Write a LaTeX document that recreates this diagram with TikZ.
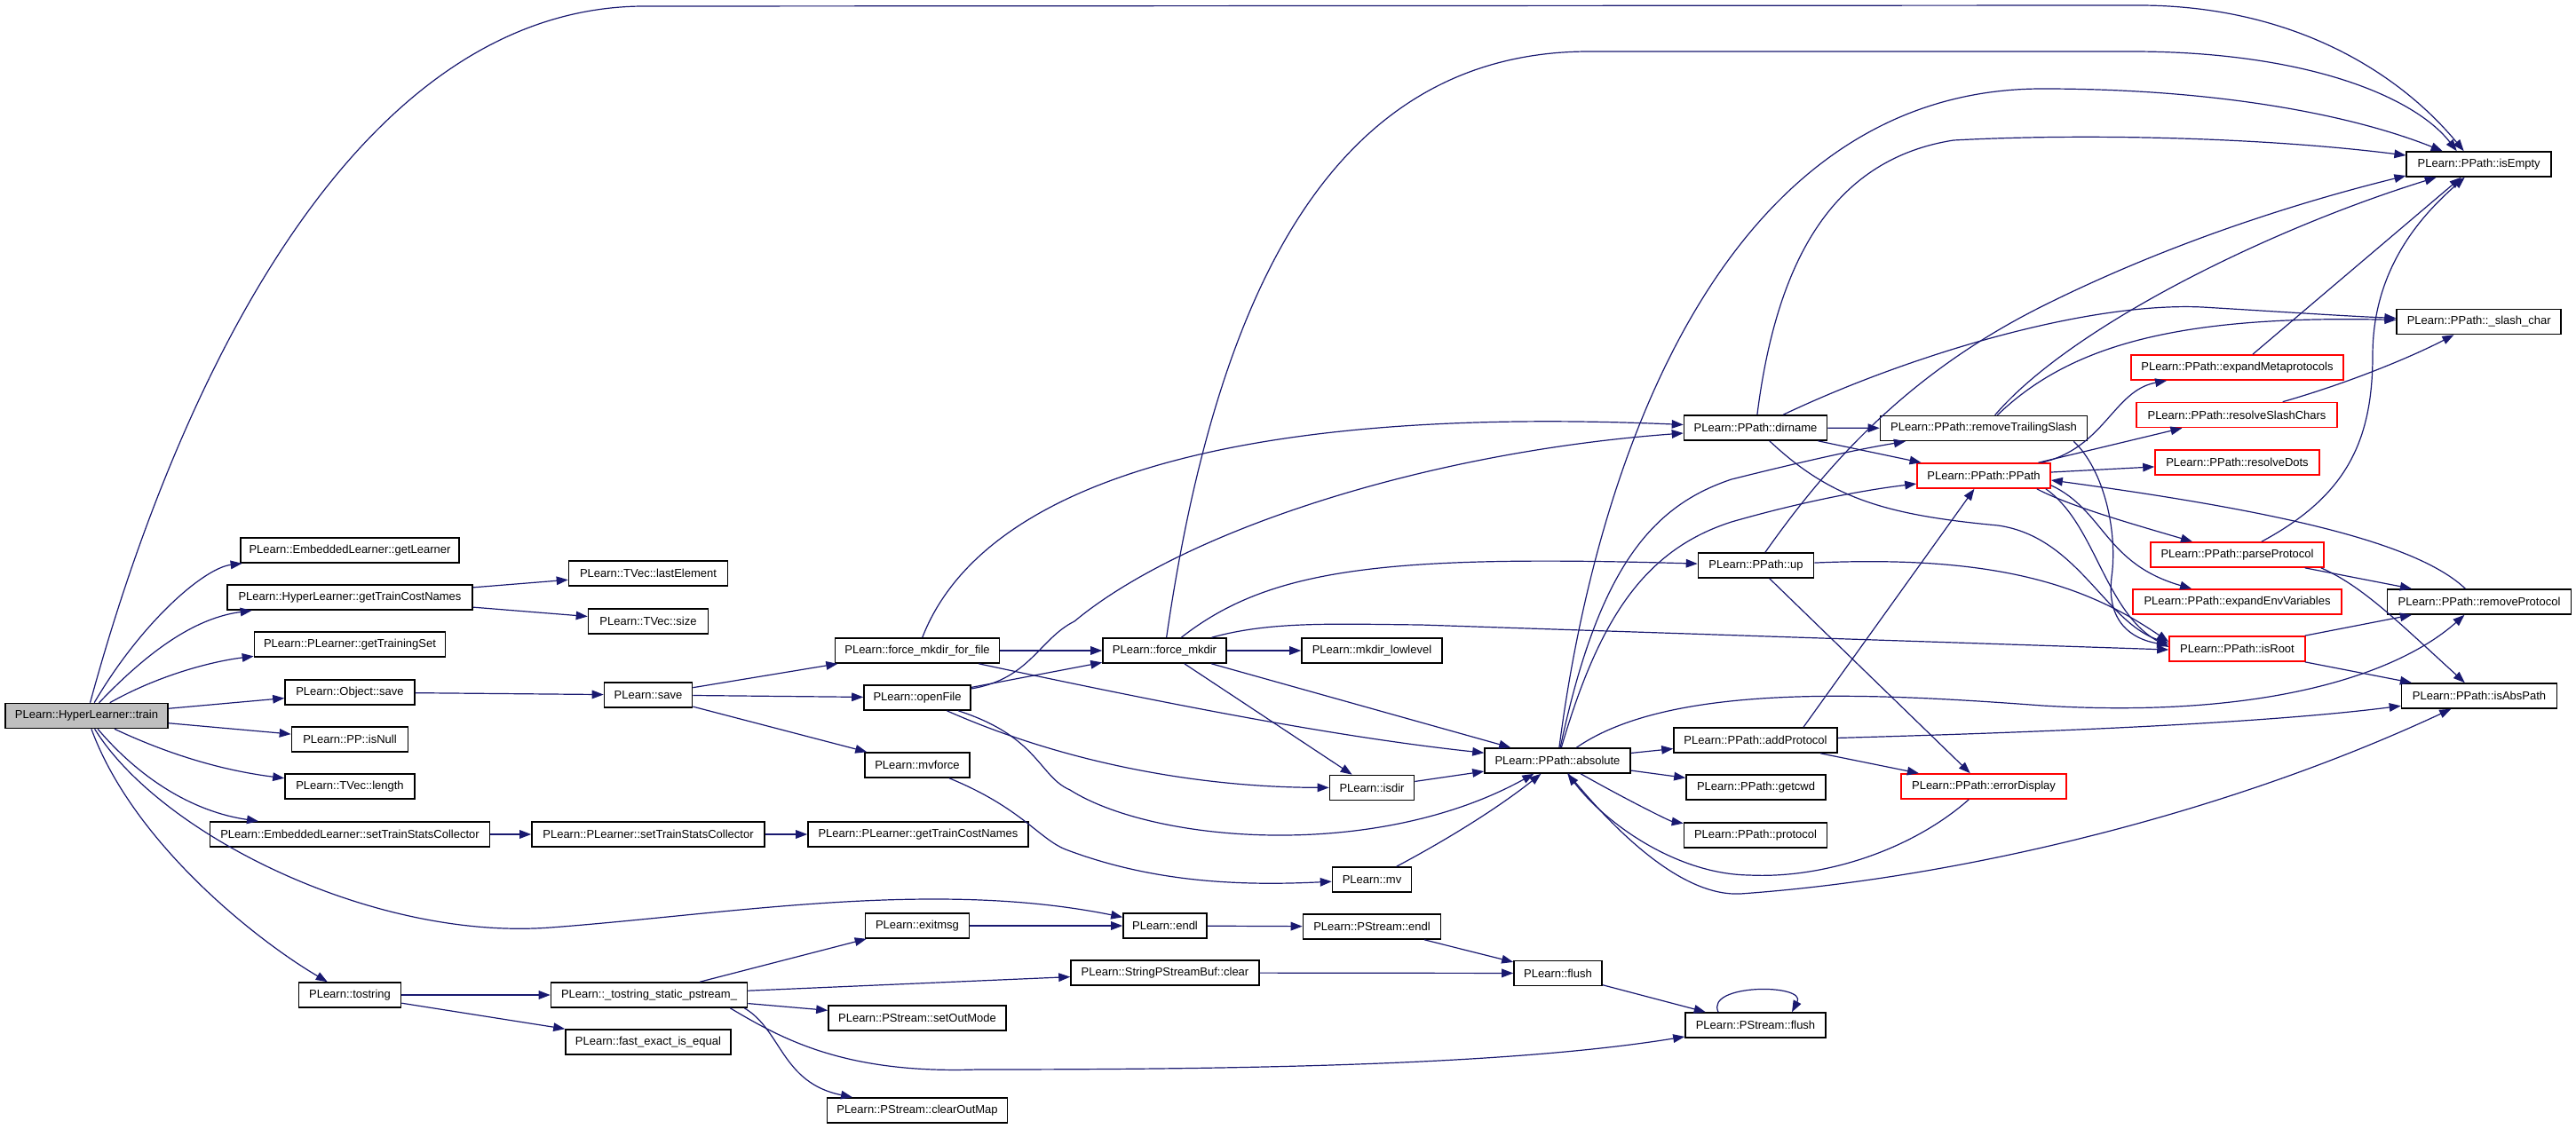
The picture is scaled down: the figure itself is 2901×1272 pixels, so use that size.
\documentclass[tikz,border=0pt]{standalone}
\usepackage{fontspec}
\setmainfont{Liberation Sans}
\usepackage{tikz}
\usetikzlibrary{arrows.meta}
\definecolor{edgeblue}{RGB}{25,25,112}
\definecolor{rootgray}{RGB}{191,191,191}
\tikzset{
    fn/.style={draw=black, line width=0.8pt, fill=white, inner xsep=1pt, inner ysep=0pt,
        minimum height=14pt, font=\fontsize{6.5}{7}\selectfont},
    fnred/.style={fn, draw=red},
    call/.style={draw=edgeblue, line width=0.6pt, -{Triangle[length=6.5pt,width=4.8pt]}}
}

\begin{document}
\begin{tikzpicture}[x=0.5pt, y=-0.5pt]
            \useasboundingbox (0,0) rectangle (2901,1272);

            \node [fn, fill=rootgray, minimum width=91.5pt] (train) at (97.5,806.5) {PLearn::HyperLearner::train};
            \node [fn, minimum width=123pt] (getLearner) at (394,620) {PLearn::EmbeddedLearner::getLearner};
            \node [fn, minimum width=138pt] (hlCost) at (394,673) {PLearn::HyperLearner::getTrainCostNames};
            \node [fn, minimum width=107.5pt] (trainSet) at (394,726) {PLearn::PLearner::getTrainingSet};
            \node [fn, minimum width=73pt] (objSave) at (394,780) {PLearn::Object::save};
            \node [fn, minimum width=65.5pt] (isNull) at (394,833) {PLearn::PP::isNull};
            \node [fn, minimum width=73pt] (tvLen) at (394,886) {PLearn::TVec::length};
            \node [fn, minimum width=157.5pt] (eSetStats) at (394,940) {PLearn::EmbeddedLearner::setTrainStatsCollector};
            \node [fn, minimum width=57.5pt] (tostr) at (394,1121) {PLearn::tostring};

            \node [fn, minimum width=89.5pt] (lastEl) at (730,646) {PLearn::TVec::lastElement};
            \node [fn, minimum width=67.5pt] (tvSize) at (730,700) {PLearn::TVec::size};
            \node [fn, minimum width=49.5pt] (save) at (730,783) {PLearn::save};
            \node [fn, minimum width=131pt] (pSetStats) at (730,940) {PLearn::PLearner::setTrainStatsCollector};
            \node [fn, minimum width=110.5pt] (tsp) at (731,1121) {PLearn::\_tostring\_static\_pstream\_};
            \node [fn, minimum width=93pt] (fastEq) at (730,1174) {PLearn::fast\_exact\_is\_equal};

            \node [fn, minimum width=92.5pt] (fmdf) at (1033,733) {PLearn::force\_mkdir\_for\_file};
            \node [fn, minimum width=60pt] (openFile) at (1033,786) {PLearn::openFile};
            \node [fn, minimum width=59pt] (mvforce) at (1033,862) {PLearn::mvforce};
            \node [fn, minimum width=124pt] (pCost) at (1034,940) {PLearn::PLearner::getTrainCostNames};
            \node [fn, minimum width=58.5pt] (exitmsg) at (1033,1043) {PLearn::exitmsg};
            \node [fn, minimum width=100pt] (setOut) at (1033,1147) {PLearn::PStream::setOutMode};
            \node [fn, minimum width=101.5pt] (clearOut) at (1033,1251) {PLearn::PStream::clearOutMap};

            \node [fn, minimum width=69.5pt] (fmd) at (1311.5,733) {PLearn::force\_mkdir};
            \node [fn, minimum width=47pt] (endl) at (1312,1043) {PLearn::endl};
            \node [fn, minimum width=106pt] (sbClear) at (1312,1096) {PLearn::StringPStreamBuf::clear};

            \node [fn, minimum width=79pt] (mkdirLL) at (1545,733) {PLearn::mkdir\_lowlevel};
            \node [fn, minimum width=47.5pt] (isdir) at (1545,887.5) {PLearn::isdir};
            \node [fn, minimum width=44.5pt] (mv) at (1545,991) {PLearn::mv};
            \node [fn, minimum width=77.5pt] (psEndl) at (1545,1044) {PLearn::PStream::endl};

            \node [fn, minimum width=82pt] (absolute) at (1754,857) {PLearn::PPath::absolute};
            \node [fn, minimum width=49.5pt] (flush) at (1754.5,1096.5) {PLearn::flush};

            \node [fn, minimum width=80.5pt] (dirname) at (1977,482) {PLearn::PPath::dirname};
            \node [fn, minimum width=65pt] (up) at (1977.5,637) {PLearn::PPath::up};
            \node [fn, minimum width=92pt] (addProt) at (1977,834) {PLearn::PPath::addProtocol};
            \node [fn, minimum width=78.5pt] (getcwd) at (1977.5,887) {PLearn::PPath::getcwd};
            \node [fn, minimum width=80.5pt] (protocol) at (1977,941) {PLearn::PPath::protocol};
            \node [fn, minimum width=79pt] (psFlush) at (1977,1155) {PLearn::PStream::flush};

            \node [fn, minimum width=116.5pt] (rts) at (2234,482.5) {PLearn::PPath::removeTrailingSlash};
            \node [fnred, minimum width=75pt] (ppath) at (2234,536) {PLearn::PPath::PPath};
            \node [fnred, minimum width=93pt] (errDisp) at (2234,886) {PLearn::PPath::errorDisplay};

            \node [fnred, minimum width=119.5pt] (expMeta) at (2519.5,414) {PLearn::PPath::expandMetaprotocols};
            \node [fnred, minimum width=113pt] (resSlash) at (2519,467.5) {PLearn::PPath::resolveSlashChars};
            \node [fnred, minimum width=92.5pt] (resDots) at (2519.5,521) {PLearn::PPath::resolveDots};
            \node [fnred, minimum width=97.5pt] (parseProt) at (2519.5,625) {PLearn::PPath::parseProtocol};
            \node [fnred, minimum width=117.5pt] (expEnv) at (2519.5,678) {PLearn::PPath::expandEnvVariables};
            \node [fnred, minimum width=76.5pt] (isRoot) at (2519.5,731) {PLearn::PPath::isRoot};

            \node [fn, minimum width=81.5pt] (isEmpty) at (2791.7,185) {PLearn::PPath::isEmpty};
            \node [fn, minimum width=92.5pt] (slash) at (2791.7,362.5) {PLearn::PPath::\_slash\_char};
            \node [fn, minimum width=103.5pt] (rmProt) at (2792,678) {PLearn::PPath::removeProtocol};
            \node [fn, minimum width=87.5pt] (isAbs) at (2792,784) {PLearn::PPath::isAbsPath};

            \draw [call] (train) .. controls (200,430) and (400,10) .. (723,7) -- (2408,6) .. controls (2580,6) and (2700,80) .. ([xshift=-8.5pt]isEmpty.north);
            \draw [call] (train) .. controls (160,700) and (230,640) .. (getLearner);
            \draw [call] (train) .. controls (180,720) and (230,695) .. (hlCost);
            \draw [call] (train) .. controls (180,760) and (240,745) .. (trainSet);
            \draw [call] (train) -- (objSave);
            \draw [call] (train) -- (isNull);
            \draw [call] (train) .. controls (190,850) and (250,868) .. (tvLen);
            \draw [call] (train) .. controls (160,880) and (220,915) .. (eSetStats);
            \draw [call] (train) .. controls (180,940) and (420,1060) .. (620,1045) .. controls (820,1030) and (1050,990) .. (endl);
            \draw [call] (train) .. controls (150,950) and (290,1060) .. (tostr);

            \draw [call] (hlCost) -- (lastEl);
            \draw [call] (hlCost) -- (tvSize);
            \draw [call] (objSave) -- (save);
            \draw [call] (eSetStats) -- (pSetStats);
            \draw [call] (pSetStats) -- (pCost);

            \draw [call] (save) -- (fmdf);
            \draw [call] (save) -- (openFile);
            \draw [call] (save) -- (mvforce);

            \draw [call] (fmdf) -- (fmd);
            \draw [call] (fmdf) .. controls (1100,560) and (1350,455) .. (dirname);
            \draw [call] (fmdf) .. controls (1300,790) and (1500,830) .. (absolute);

            \draw [call] (openFile) -- (fmd);
            \draw [call] (openFile) .. controls (1160,765) and (1170,720) .. (1210,700) .. controls (1330,600) and (1600,510) .. (dirname);
            \draw [call] (openFile) .. controls (1200,860) and (1350,887) .. (isdir);
            \draw [call] (openFile) .. controls (1170,830) and (1170,875) .. (1205,890) .. controls (1300,950) and (1550,970) .. (absolute);

            \draw [call] (mvforce) .. controls (1150,910) and (1170,945) .. (1200,957) .. controls (1300,995) and (1400,998) .. (mv);
            \draw [call] (mv) .. controls (1650,935) and (1700,900) .. (absolute);
            \draw [call] (isdir) -- (absolute);

            \draw [call] (fmd) -- (mkdirLL);
            \draw [call] (fmd) -- (isdir);
            \draw [call] (fmd) -- (absolute);
            \draw [call] (fmd) .. controls (1370,330) and (1500,58) .. (1790,58) -- (2400,58) .. controls (2600,58) and (2720,110) .. ([xshift=-12.5pt]isEmpty.north);
            \draw [call] (fmd) .. controls (1430,640) and (1560,625) .. (up);
            \draw [call] (fmd) .. controls (1430,700) and (1500,703) .. (1600,704) -- ([yshift=-0.5pt]isRoot.west);

            \draw [call] (absolute) -- (addProt);
            \draw [call] (absolute) -- (getcwd);
            \draw [call] (absolute) .. controls (1830,900) and (1880,925) .. (protocol);
            \draw [call] (absolute) .. controls (1830,950) and (1900,1010) .. (1960,1007) .. controls (2200,990) and (2500,920) .. (isAbs);
            \draw [call] (absolute) .. controls (1880,770) and (2100,780) .. (2300,795) .. controls (2550,810) and (2700,760) .. (rmProt);
            \draw [call] (absolute) .. controls (1800,500) and (1950,100) .. (2300,100) .. controls (2500,100) and (2650,130) .. ([xshift=-20.5pt]isEmpty.north);
            \draw [call] (absolute) .. controls (1800,640) and (1860,570) .. (1950,540) .. controls (2050,515) and (2100,505) .. (rts);
            \draw [call] (absolute) .. controls (1800,700) and (1850,620) .. (1950,588) .. controls (2030,565) and (2100,552) .. (ppath);

            \draw [call] (up) .. controls (2060,520) and (2150,420) .. (2300,345) .. controls (2450,270) and (2600,225) .. ([yshift=-6.5pt]isEmpty.west);
            \draw [call] (up) -- (errDisp);
            \draw [call] (up) .. controls (2250,625) and (2350,660) .. ([yshift=4pt]isRoot.west);

            \draw [call] (addProt) .. controls (2300,825) and (2550,815) .. (isAbs);
            \draw [call] (addProt) -- (errDisp);
            \draw [call] ([xshift=27pt]addProt.north) -- (ppath);
            \draw [call] (errDisp) .. controls (2150,960) and (2050,990) .. (1970,986) .. controls (1890,985) and (1810,930) .. (absolute);

            \draw [call] (dirname) -- (rts);
            \draw [call] (dirname) -- (ppath);
            \draw [call] (dirname) .. controls (2150,400) and (2350,340) .. (2480,346) .. controls (2580,352) and (2640,356) .. (slash);
            \draw [call] (dirname) .. controls (2000,300) and (2060,180) .. (2200,158) .. controls (2350,150) and (2550,155) .. ([yshift=5pt]isEmpty.west);
            \draw [call] (dirname) .. controls (2060,560) and (2120,580) .. (2250,592) .. controls (2340,605) and (2370,700) .. ([yshift=3pt]isRoot.west);

            \draw [call] (rts) .. controls (2330,370) and (2550,260) .. ([xshift=-24pt]isEmpty.south);
            \draw [call] (rts) .. controls (2330,390) and (2450,355) .. (slash);
            \draw [call] ([xshift=-8pt]rts.south east) .. controls (2370,530) and (2385,600) .. (2378,650) .. controls (2372,700) and (2400,720) .. ([yshift=2pt]isRoot.west);

            \draw [call] (ppath) .. controls (2370,505) and (2380,440) .. (expMeta);
            \draw [call] (ppath) -- (resSlash);
            \draw [call] (ppath) -- (resDots);
            \draw [call] ([xshift=-8pt]ppath.south east) .. controls (2330,570) and (2400,590) .. (parseProt);
            \draw [call] ([yshift=2pt]ppath.south east) .. controls (2370,575) and (2370,635) .. (expEnv);
            \draw [call] ([xshift=-3pt]ppath.south east) .. controls (2360,590) and (2370,690) .. ([yshift=1pt]isRoot.west);

            \draw [call] (expMeta) -- ([xshift=-10pt]isEmpty.south);
            \draw [call] (resSlash) .. controls (2650,430) and (2720,400) .. (slash);
            \draw [call] (parseProt) .. controls (2640,560) and (2672,500) .. (2672,400) .. controls (2672,300) and (2730,240) .. ([xshift=-8pt]isEmpty.south);
            \draw [call] (parseProt) -- (rmProt);
            \draw [call] ([xshift=-2pt]parseProt.south east) .. controls (2660,660) and (2700,700) .. (isAbs);
            \draw [call] (isRoot) -- (rmProt);
            \draw [call] (isRoot) -- (isAbs);
            \draw [call] (rmProt) .. controls (2720,610) and (2560,575) .. ([yshift=-2.5pt]ppath.east);

            \draw [call] (tostr) -- (tsp);
            \draw [call] (tostr) -- (fastEq);
            \draw [call] (tsp) -- (exitmsg);
            \draw [call] (tsp) -- (sbClear);
            \draw [call] (tsp) -- (setOut);
            \draw [call] ([xshift=-2pt]tsp.south east) .. controls (880,1160) and (880,1220) .. (clearOut);
            \draw [call] ([xshift=-10pt]tsp.south east) .. controls (880,1170) and (950,1210) .. (1100,1205) .. controls (1400,1205) and (1700,1200) .. (psFlush);
            \draw [call] (exitmsg) -- (endl);
            \draw [call] (endl) -- (psEndl);
            \draw [call] (psEndl) -- (flush);
            \draw [call] (sbClear) -- (flush);
            \draw [call] (flush) -- (psFlush);
            \draw [call] ([xshift=-21pt]psFlush.north) .. controls (1920,1108) and (2035,1108) .. ([xshift=20.5pt]psFlush.north);
        \end{tikzpicture}
\end{document}
